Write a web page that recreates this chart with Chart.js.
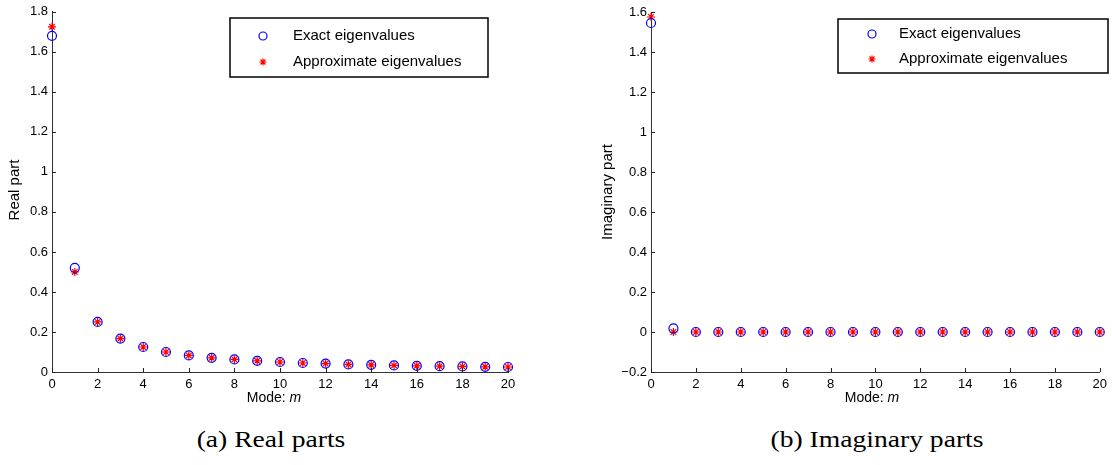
<!DOCTYPE html>
<html lang="en">
<head>
<meta charset="UTF-8">
<title>Exact vs approximate eigenvalues</title>
<script src="https://cdn.jsdelivr.net/npm/chart.js"></script>
<style>
    body {
        margin: 0;
        background: #fff;
        width: 1112px;
        height: 465px;
        position: relative;
        overflow: hidden;
    }
    .panel { position: absolute; top: 0; height: 410px; }
    #left { left: 0; width: 540px; }
    #right { left: 560px; width: 552px; }
    .caption {
        position: absolute;
        top: 427px;
        font-family: "Liberation Serif", "DejaVu Serif", serif;
        font-size: 23px;
        color: #000;
        white-space: nowrap;
        transform: translateX(-50%) scaleX(1.2);
    }
</style>
</head>
<body>

<div class="panel" id="left"><canvas id="realChart"></canvas></div>
<div class="panel" id="right"><canvas id="imagChart"></canvas></div>
<div class="caption" style="left:271px">(a) Real parts</div>
<div class="caption" style="left:877px">(b) Imaginary parts</div>

<script>
// data
var modes = [0, 1, 2, 3, 4, 5, 6, 7, 8, 9, 10, 11, 12, 13, 14, 15, 16, 17, 18, 19, 20];
var realExact  = [1.68, 0.52, 0.25, 0.167, 0.125, 0.1, 0.083, 0.071, 0.063, 0.056, 0.05, 0.045, 0.042, 0.038, 0.036, 0.033, 0.031, 0.029, 0.028, 0.026, 0.025];
var realApprox = [1.725, 0.50, 0.25, 0.167, 0.125, 0.1, 0.083, 0.071, 0.063, 0.056, 0.05, 0.045, 0.042, 0.038, 0.036, 0.033, 0.031, 0.029, 0.028, 0.026, 0.025];
var imagExact  = [1.545, 0.018, 0, 0, 0, 0, 0, 0, 0, 0, 0, 0, 0, 0, 0, 0, 0, 0, 0, 0, 0];
var imagApprox = [1.575, 0, 0, 0, 0, 0, 0, 0, 0, 0, 0, 0, 0, 0, 0, 0, 0, 0, 0, 0, 0];
var legendLabels = ['Exact eigenvalues', 'Approximate eigenvalues'];

var sansFont = '"Liberation Sans", Arial, sans-serif';

function toPoints(ys) {
    return modes.map(function (m, i) { return { x: m, y: ys[i] }; });
}

// inward ticks, axis titles and the boxed legend
var decor = {
    id: 'decor',
    afterDraw: function (chart, args, opts) {
        var ctx = chart.ctx, a = chart.chartArea;
        var xs = chart.scales.x, ys = chart.scales.y;
        ctx.save();
        ctx.strokeStyle = '#222';
        ctx.lineWidth = 1;
        ctx.beginPath();
        xs.ticks.forEach(function (t) {
            var px = Math.round(xs.getPixelForValue(t.value)) + 0.5;
            ctx.moveTo(px, a.bottom);
            ctx.lineTo(px, a.bottom - 4);
        });
        ys.ticks.forEach(function (t) {
            var py = Math.round(ys.getPixelForValue(t.value)) + 0.5;
            ctx.moveTo(a.left, py);
            ctx.lineTo(a.left + 4, py);
        });
        ctx.stroke();

        // y title
        ctx.fillStyle = '#000';
        ctx.font = '15px ' + sansFont;
        ctx.textAlign = 'center';
        ctx.textBaseline = 'middle';
        ctx.save();
        ctx.translate(opts.yTitleX, opts.yTitleY);
        ctx.rotate(-Math.PI / 2);
        ctx.fillText(opts.yTitle, 0, 0);
        ctx.restore();

        // x title "Mode: m"
        var part1 = 'Mode: ';
        ctx.font = '14px ' + sansFont;
        var w1 = ctx.measureText(part1).width;
        ctx.font = 'italic 14px ' + sansFont;
        var w2 = ctx.measureText('m').width;
        var x0 = opts.xTitleX - (w1 + w2) / 2;
        ctx.textAlign = 'left';
        ctx.font = '14px ' + sansFont;
        ctx.fillText(part1, x0, opts.xTitleY);
        ctx.font = 'italic 14px ' + sansFont;
        ctx.fillText('m', x0 + w1, opts.xTitleY);

        // legend
        var b = opts.box;
        ctx.fillStyle = '#fff';
        ctx.fillRect(b.x, b.y, b.w, b.h);
        ctx.strokeStyle = '#000';
        ctx.lineWidth = 1.5;
        ctx.strokeRect(b.x, b.y, b.w, b.h);
        chart.data.datasets.forEach(function (ds, i) {
            var cy = b.rows[i];
            ctx.strokeStyle = ds.borderColor;
            ctx.fillStyle = ds.backgroundColor;
            ctx.lineWidth = ds.borderWidth;
            Chart.helpers.drawPoint(ctx, {
                pointStyle: ds.pointStyle,
                radius: ds.pointRadius - 0.5,
                borderWidth: ds.borderWidth
            }, b.markX, cy);
            ctx.fillStyle = '#000';
            ctx.font = '15px ' + sansFont;
            ctx.textAlign = 'left';
            ctx.textBaseline = 'middle';
            ctx.fillText(ds.label, b.textX, cy);
        });
        ctx.restore();
    }
};

function makeChart(id, exact, approx, yMin, yMax, axisWidth, top, rightPad, decorOpts) {
    var ctx = document.getElementById(id).getContext('2d');
    return new Chart(ctx, {
        type: 'scatter',
        data: {
            datasets: [{
                label: legendLabels[0],
                data: toPoints(exact),
                pointStyle: 'circle',
                pointRadius: 4.5,
                pointHoverRadius: 4.5,
                borderWidth: 1.2,
                borderColor: '#0000ff',
                backgroundColor: 'rgba(0,0,0,0)',
                clip: false
            }, {
                label: legendLabels[1],
                data: toPoints(approx),
                pointStyle: 'star',
                pointRadius: 4,
                pointHoverRadius: 4,
                borderWidth: 1.2,
                borderColor: '#ff0000',
                backgroundColor: '#ff0000',
                clip: false
            }]
        },
        options: {
            responsive: true,
            maintainAspectRatio: false,
            animation: false,
            events: [],
            layout: { padding: { top: top, right: rightPad, left: 0, bottom: 0 } },
            plugins: {
                legend: { display: false },
                tooltip: { enabled: false },
                decor: decorOpts
            },
            scales: {
                x: {
                    type: 'linear',
                    min: 0,
                    max: 20,
                    ticks: {
                        stepSize: 2,
                        color: '#000',
                        padding: 5,
                        maxRotation: 0,
                        font: { family: sansFont, size: 13 }
                    },
                    grid: { drawOnChartArea: false, drawTicks: false },
                    border: { display: true, color: '#333', width: 1 },
                    afterFit: function (scale) { scale.height = 38; }
                },
                y: {
                    type: 'linear',
                    min: yMin,
                    max: yMax,
                    ticks: {
                        stepSize: 0.2,
                        color: '#000',
                        padding: 4,
                        font: { family: sansFont, size: 13 },
                        callback: function (v) {
                            var s = String(Math.round(v * 10) / 10);
                            return s.replace('-', '\u2212');
                        }
                    },
                    grid: { drawOnChartArea: false, drawTicks: false },
                    border: { display: true, color: '#333', width: 1 },
                    afterFit: function (scale) { scale.width = axisWidth; }
                }
            }
        },
        plugins: [decor]
    });
}

makeChart('realChart', realExact, realApprox, 0, 1.8, 52, 11, 32, {
    yTitle: 'Real part', yTitleX: 15, yTitleY: 190,
    xTitleX: 274, xTitleY: 398,
    box: { x: 230, y: 18, w: 258, h: 59, markX: 263, textX: 293, rows: [36, 62] }
});

makeChart('imagChart', imagExact, imagApprox, -0.2, 1.6, 91, 12, 4, {
    yTitle: 'Imaginary part', yTitleX: 48, yTitleY: 192,
    xTitleX: 312, xTitleY: 398,
    box: { x: 278, y: 19, w: 270, h: 54, markX: 312, textX: 339, rows: [34, 59] }
});
</script>

</body>
</html>
